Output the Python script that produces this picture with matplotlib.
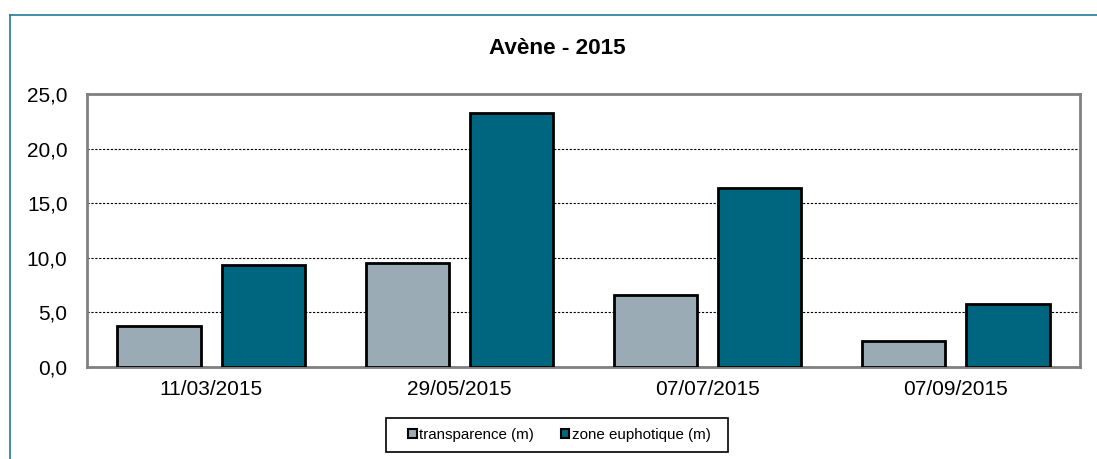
import numpy as np
import matplotlib
matplotlib.use('Agg')
import matplotlib.pyplot as plt
from matplotlib.lines import Line2D
from matplotlib.patches import Patch, Rectangle
from matplotlib.ticker import FuncFormatter

plt.rcParams['font.family'] = ['Liberation Sans', 'DejaVu Sans']

dates = ["11/03/2015", "29/05/2015", "07/07/2015", "07/09/2015"]
transparence = [3.8, 9.5, 6.6, 2.4]
zone_euphotique = [9.3, 23.3, 16.4, 5.8]
series_names = ["transparence (m)", "zone euphotique (m)"]
colors = ["#9BABB5", "#006680"]

fig = plt.figure(figsize=(10.97, 4.59), dpi=100)
ax = fig.add_axes([0.0793, 0.2004, 0.9052, 0.5948])

x = np.arange(len(dates))
w = 0.335
off = 0.21
ax.bar(x - off, transparence, w, color=colors[0], edgecolor="black", linewidth=2, zorder=3)
ax.bar(x + off, zone_euphotique, w, color=colors[1], edgecolor="black", linewidth=2, zorder=3)

ax.set_xlim(-0.5, len(dates) - 0.5)
ax.set_ylim(0, 25)
ax.set_yticks(np.arange(0, 26, 5))
ax.yaxis.set_major_formatter(FuncFormatter(lambda v, p: f"{v:.1f}".replace(".", ",")))
ax.set_xticks(x)
ax.set_xticklabels(dates)
ax.tick_params(axis="both", length=0, labelsize=15)
ax.tick_params(axis="x", pad=9)
ax.tick_params(axis="y", pad=14)
ax.yaxis.grid(True, linestyle=(0, (2, 1.5)), color="black", linewidth=0.8, zorder=0)
for s in ax.spines.values():
    s.set_color("#808080")
    s.set_linewidth(2)

fig.text(0.508, 0.895, "Avène - 2015", ha="center", va="center", fontsize=16.2, fontweight="bold")

handles = [Patch(facecolor=c, edgecolor="black", linewidth=1.5) for c in colors]
leg = fig.legend(handles, series_names, loc="center", bbox_to_anchor=(0.51, 0.052),
                 ncol=2, fontsize=10.9, frameon=False,
                 handlelength=0.55, handleheight=0.55, handletextpad=0.15, columnspacing=1.8,
                 borderpad=0, borderaxespad=0)

# legend box drawn a bit wider than the entries, like the original
fig.canvas.draw()
bb = leg.get_window_extent().transformed(fig.transFigure.inverted())
padx, pady = 22 / 1097, 10 / 459
fig.add_artist(Rectangle((bb.x0 - padx, bb.y0 - pady), bb.width + 2 * padx - 5 / 1097,
                         bb.height + 2 * pady, transform=fig.transFigure,
                         facecolor="none", edgecolor="black", linewidth=1.2))

# outer chart frame (left and top visible)
fig.add_artist(Line2D([0.0091, 0.0091], [0.967, 0.0], color="#1F7A99", linewidth=1.2))
fig.add_artist(Line2D([0.0091, 1.0], [0.967, 0.967], color="#1F7A99", linewidth=1.2))

fig.savefig("out.png", dpi=100)
